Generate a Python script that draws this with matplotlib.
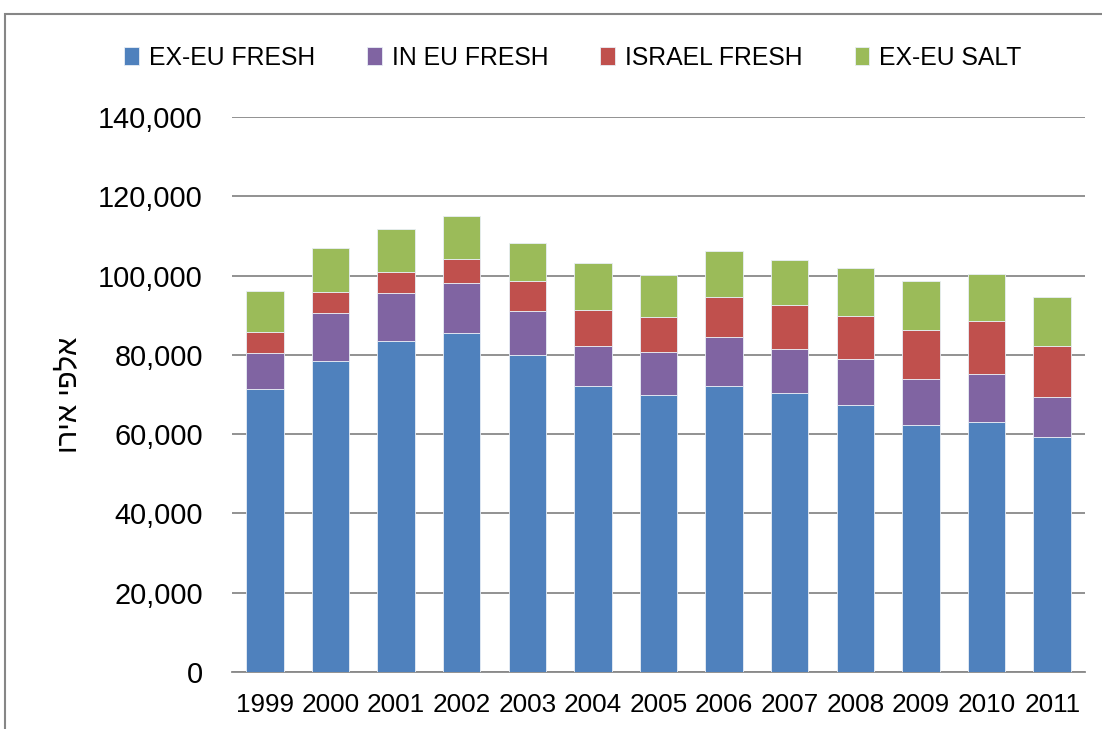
import matplotlib
matplotlib.use("Agg")
import matplotlib.pyplot as plt
from matplotlib.patches import Rectangle
from matplotlib.ticker import FuncFormatter
import numpy as np

years = ["1999", "2000", "2001", "2002", "2003", "2004", "2005",
         "2006", "2007", "2008", "2009", "2010", "2011"]
series_names = ["EX-EU FRESH", "IN EU FRESH", "ISRAEL FRESH", "EX-EU SALT"]
ex_eu_fresh = [71300, 78500, 83400, 85500, 79900, 72100, 69800, 72100, 70500, 67300, 62200, 63000, 59400]
in_eu_fresh = [9100, 12000, 12100, 12600, 11100, 10100, 10900, 12300, 11100, 11700, 11600, 12200, 9900]
israel_fresh = [5400, 5400, 5500, 6100, 7600, 9200, 8900, 10100, 11000, 10800, 12500, 13300, 12900]
ex_eu_salt = [10400, 11000, 10800, 10800, 9700, 11800, 10600, 11800, 11400, 12100, 12400, 12000, 12500]
colors = ["#4F81BD", "#8064A2", "#C0504D", "#9BBB59"]
y_label = "וריא יפלא"  # visual order of "אלפי אירו"

plt.rcParams['font.family'] = ['Liberation Sans', 'DejaVu Sans']

fig = plt.figure(figsize=(11.02, 7.29), dpi=100)
W, H = 1102, 729
ax = fig.add_axes([232 / W, 1 - 672 / H, (1085 - 232) / W, (672 - 117) / H])

x = np.arange(len(years))
bottom = np.zeros(len(years))
for name, vals, c in zip(series_names, [ex_eu_fresh, in_eu_fresh, israel_fresh, ex_eu_salt], colors):
    ax.bar(x, vals, width=0.57, bottom=bottom, color=c, label=name,
           edgecolor="#e8eef6", linewidth=0.6, zorder=3)
    bottom += np.array(vals)

ax.set_xlim(-0.5, len(years) - 0.5)
ax.set_ylim(0, 140000)
ax.set_yticks(np.arange(0, 140001, 20000))
ax.yaxis.set_major_formatter(FuncFormatter(lambda v, p: f"{int(v):,}"))
ax.set_xticks(x)
ax.set_xticklabels(years)
ax.grid(axis="y", color="#898989", linewidth=1.3, zorder=0)
for s in ["top", "right", "left"]:
    ax.spines[s].set_visible(False)
ax.spines["bottom"].set_color("#898989")
ax.spines["bottom"].set_linewidth(1.3)
ax.tick_params(axis="both", length=0)
ax.tick_params(axis="y", labelsize=20.8, pad=21)
ax.tick_params(axis="x", labelsize=18.8, pad=15)

ax.set_ylabel(y_label, fontsize=21, labelpad=11)

leg = fig.legend(loc="center", bbox_to_anchor=(0.52, 1 - 58 / H), ncol=4,
                 frameon=False, fontsize=17.8, handlelength=0.6, handleheight=0.75,
                 handletextpad=0.4, columnspacing=2.1)

fig.patches.append(Rectangle((5 / W, -0.2), 1.5, 1.2 - 14 / H + 0.0,
                             transform=fig.transFigure, fill=False,
                             edgecolor="#868686", linewidth=1.5))

fig.savefig("out.png", dpi=100)
